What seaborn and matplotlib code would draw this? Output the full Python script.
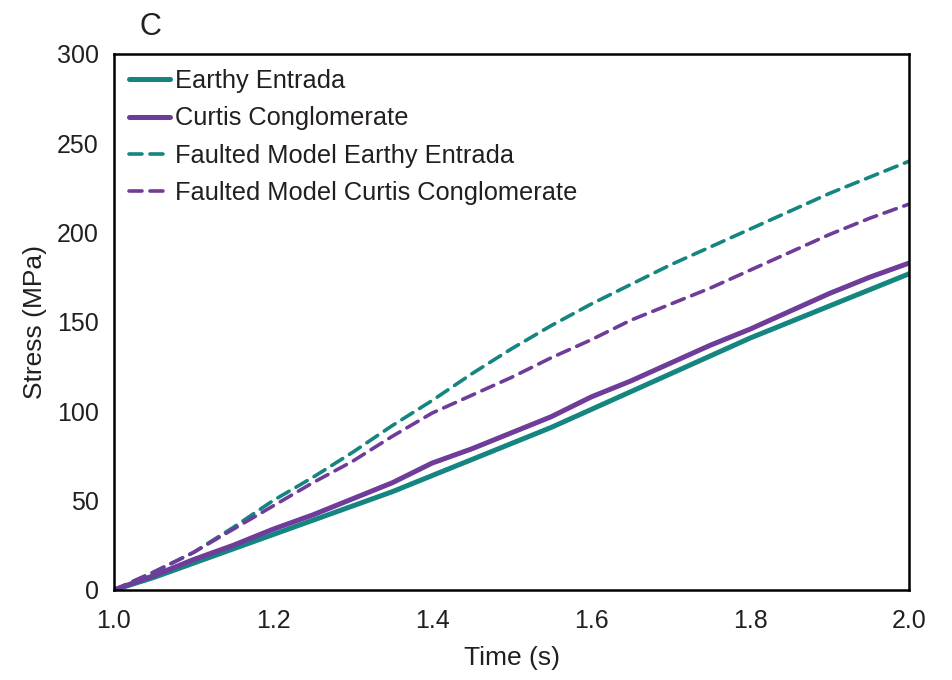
import numpy as np
import pandas as pd
import matplotlib
matplotlib.use("Agg")
import matplotlib.pyplot as plt
import seaborn as sns

time_s = [1.00, 1.05, 1.10, 1.15, 1.20, 1.25, 1.30, 1.35, 1.40, 1.45, 1.50,
          1.55, 1.60, 1.65, 1.70, 1.75, 1.80, 1.85, 1.90, 1.95, 2.00]
earthy_entrada = [0, 7, 15, 23, 31, 39, 47, 55, 64, 73, 82,
                  91, 101, 111, 121, 131, 141, 150, 159, 168, 177]
curtis_conglomerate = [0, 8, 17, 25, 34, 42, 51, 60, 71, 79, 88,
                       97, 108, 117, 127, 137, 146, 156, 166, 175, 183]
faulted_earthy_entrada = [0, 10, 21, 35, 50, 63, 77, 92, 106, 121, 135,
                          148, 160, 171, 182, 192, 202, 212, 222, 231, 240]
faulted_curtis_conglomerate = [0, 10, 21, 34, 47, 60, 72, 86, 99, 109, 119,
                               130, 140, 151, 160, 169, 179, 189, 199, 208, 216]

series_names = ["Earthy Entrada", "Curtis Conglomerate",
                "Faulted Model Earthy Entrada", "Faulted Model Curtis Conglomerate"]
series_values = [earthy_entrada, curtis_conglomerate,
                 faulted_earthy_entrada, faulted_curtis_conglomerate]

x_ticks = [1.0, 1.2, 1.4, 1.6, 1.8, 2.0]
y_ticks = [0, 50, 100, 150, 200, 250, 300]

sns.set_theme(style="white")
plt.rcParams['font.family'] = ['Liberation Sans', 'DejaVu Sans']

teal = "#148580"
purple = "#6f3c99"
txt = "#231f20"
styles = {
    "Earthy Entrada": dict(color=teal, lw=3.6, ls="-"),
    "Curtis Conglomerate": dict(color=purple, lw=3.6, ls="-"),
    "Faulted Model Earthy Entrada": dict(color=teal, lw=2.6, ls=(0, (3.6, 2.2))),
    "Faulted Model Curtis Conglomerate": dict(color=purple, lw=2.6, ls=(0, (3.6, 2.2))),
}

fig = plt.figure(figsize=(9.52, 6.8), dpi=100)
ax = fig.add_axes([0.1197, 0.1324, 0.8353, 0.7882])

for name, vals in zip(series_names, series_values):
    df = pd.DataFrame({"Time (s)": time_s, "Stress (MPa)": vals})
    st = styles[name]
    sns.lineplot(data=df, x="Time (s)", y="Stress (MPa)", ax=ax, label=name,
                 color=st["color"], linewidth=st["lw"], linestyle=st["ls"],
                 solid_capstyle="round", dash_capstyle="round")

ax.set_xlim(1.0, 2.0)
ax.set_ylim(0, 300)
ax.set_xticks(x_ticks)
ax.set_xticklabels([f"{v:.1f}" for v in x_ticks])
ax.set_yticks(y_ticks)
ax.set_yticklabels([str(v) for v in y_ticks])
ax.tick_params(axis="x", length=0, labelsize=18, colors=txt, pad=14)
ax.tick_params(axis="y", length=0, labelsize=18, colors=txt, pad=11)
ax.set_xlabel("Time (s)", fontsize=19, color=txt, labelpad=9)
ax.set_ylabel("Stress (MPa)", fontsize=19, color=txt, labelpad=7)
for sp in ax.spines.values():
    sp.set_color("black")
    sp.set_linewidth(1.8)

leg = ax.legend(loc="upper left", frameon=False, fontsize=18.3, handlelength=1.6,
                handletextpad=0.22, labelspacing=0.52, borderaxespad=0.3,
                borderpad=0.3, labelcolor=txt)

fig.text(0.147, 0.960, "C", fontsize=22, color=txt, ha="left", va="center")

fig.savefig("out.png", dpi=100)
